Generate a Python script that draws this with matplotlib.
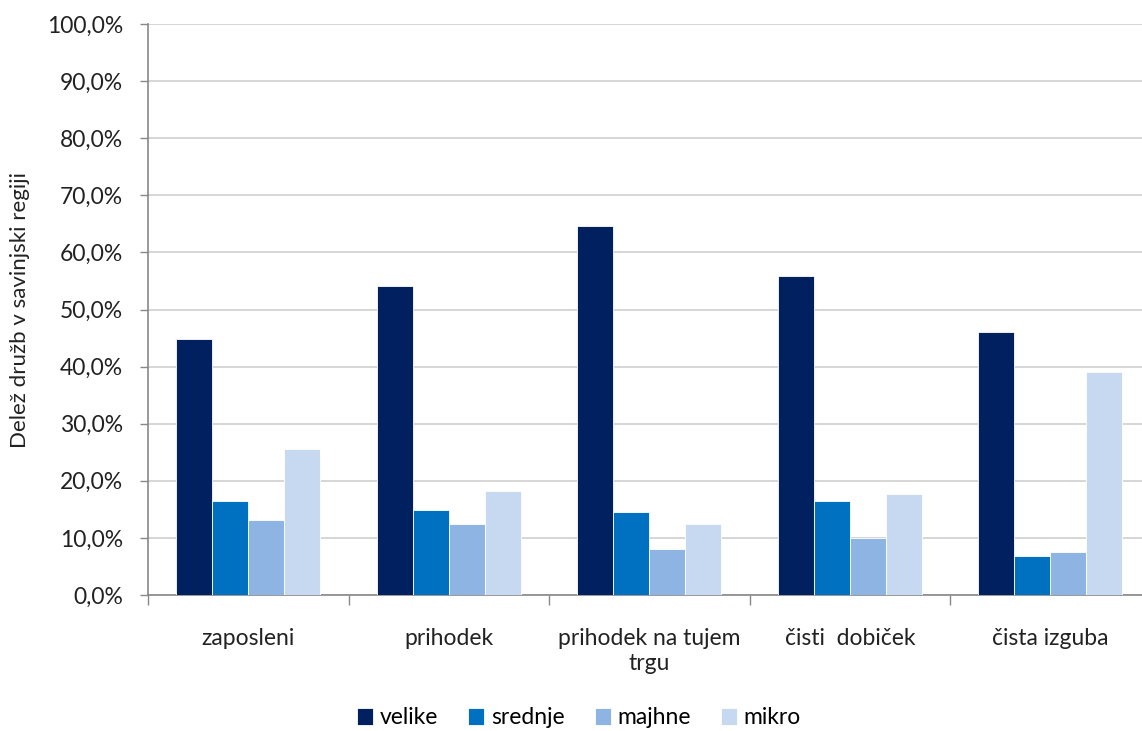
import numpy as np
import matplotlib.pyplot as plt
from matplotlib.ticker import FuncFormatter, FixedLocator

# data
categories = ["zaposleni", "prihodek", "prihodek na tujem\ntrgu", "čisti  dobiček", "čista izguba"]
series_names = ["velike", "srednje", "majhne", "mikro"]
velike  = [44.9, 54.2, 64.6, 55.8, 46.1]
srednje = [16.4, 14.8, 14.5, 16.4, 6.8]
majhne  = [13.2, 12.5, 8.0, 10.0, 7.5]
mikro   = [25.5, 18.2, 12.5, 17.7, 39.1]
values = [velike, srednje, majhne, mikro]
colors = ["#002060", "#0070C0", "#8EB4E3", "#C6D9F1"]

plt.rcParams['font.family'] = ['Lato', 'DejaVu Sans']

W, H = 1142, 731
fig = plt.figure(figsize=(W / 100, H / 100), dpi=100)
ax = fig.add_axes([148 / W, 1 - 595 / H, (W - 148) / W, (595 - 24) / H])

x = np.arange(len(categories)) + 0.5
bw = 0.18
for i, (name, vals, col) in enumerate(zip(series_names, values, colors)):
    ax.bar(x + (i - 1.5) * bw, vals, width=bw, color=col, edgecolor="white",
           linewidth=0.6, label=name, zorder=3)

ax.set_xlim(0, (W - 148) / 200.5)
ax.set_ylim(0, 100)
ax.set_yticks(np.arange(0, 101, 10))
ax.yaxis.set_major_formatter(FuncFormatter(lambda v, p: f"{v:.1f}%".replace(".", ",")))
ax.grid(True, axis="y", color="#D0D0D0", linewidth=1.2, zorder=0)

ax.xaxis.set_major_locator(FixedLocator(np.arange(0, 5)))
ax.xaxis.set_minor_locator(FixedLocator(x))
ax.set_xticklabels([""] * 5)
ax.set_xticklabels(categories, minor=True)
ax.tick_params(axis="x", which="major", length=7, color="#888888", width=1)
ax.tick_params(axis="x", which="minor", length=0, pad=24, labelsize=16.5, colors="#222222")
ax.tick_params(axis="y", length=6, color="#888888", width=1, labelsize=16.5,
               labelcolor="#222222", pad=12)

for s in ["top", "right"]:
    ax.spines[s].set_visible(False)
for s in ["left", "bottom"]:
    ax.spines[s].set_color("#888888")
    ax.spines[s].set_linewidth(1.2)

ax.set_ylabel("Delež družb v savinjski regiji", fontsize=16, color="#222222")
ax.yaxis.set_label_coords((20 - 148) / (W - 148), 0.5)
ax.yaxis.label.set_va("center")

fig.legend(loc="center", bbox_to_anchor=(0.507, 1 - 718 / H), ncol=4, frameon=False,
           fontsize=16.5, handlelength=0.7, handleheight=0.7, handletextpad=0.3,
           columnspacing=1.3)

fig.savefig("out.png", dpi=100, facecolor="white")
